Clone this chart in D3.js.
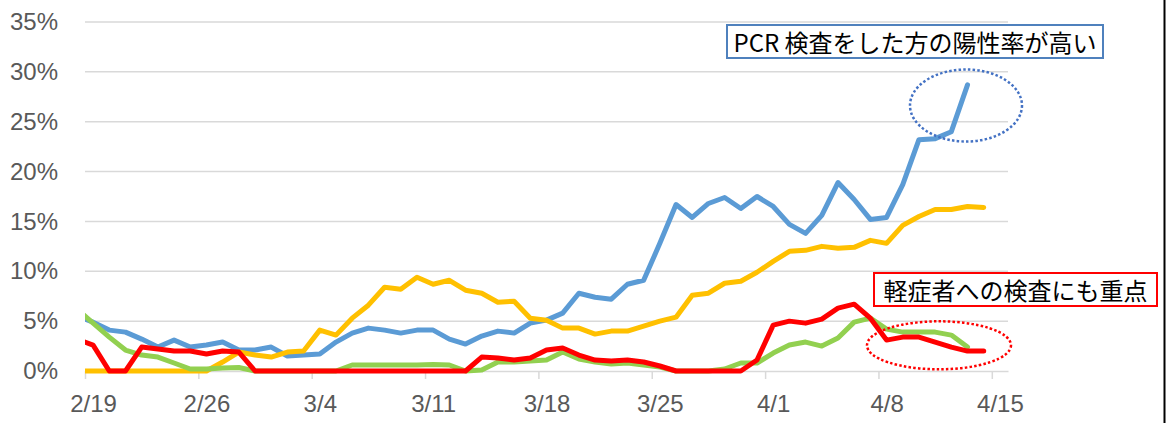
<!DOCTYPE html>
<html>
<head>
<meta charset="utf-8">
<script src="https://cdn.jsdelivr.net/npm/d3@7"></script>
<style>
  body { margin: 0; background: #fff; }
  svg { display: block; }
</style>
</head>
<body>
<script>
// data: one value per day starting 2/18 (2/18 sits just outside the axis, clipped)
const startDay = "2020-02-18";
const tickLabels = ["2/19", "2/26", "3/4", "3/11", "3/18", "3/25", "4/1", "4/8", "4/15"];
const yTicks = [0, 5, 10, 15, 20, 25, 30, 35];

const blue = [5.5, 4.9, 4.1, 3.9, 3.2, 2.4, 3.1, 2.4, 2.6, 2.9, 2.1, 2.1, 2.4, 1.5, 1.6, 1.7,
  2.9, 3.8, 4.3, 4.1, 3.8, 4.1, 4.1, 3.2, 2.7, 3.5, 4.0, 3.8, 4.8, 5.1, 5.8, 7.8, 7.4, 7.2,
  8.7, 9.1, 12.8, 16.7, 15.4, 16.8, 17.4, 16.3, 17.5, 16.5, 14.7, 13.8, 15.6, 18.9, 17.2,
  15.2, 15.4, 18.7, 23.2, 23.3, 24.0, 28.7, null, null];
const yellow = [0, 0, 0, 0, 0, 0, 0, 0, 0, 0.9, 1.9, 1.6, 1.4, 1.9, 2.0, 4.1, 3.6, 5.3, 6.6,
  8.4, 8.2, 9.4, 8.7, 9.1, 8.1, 7.8, 6.9, 7.0, 5.3, 5.1, 4.3, 4.3, 3.7, 4.0, 4.0, 4.5, 5.0,
  5.4, 7.6, 7.8, 8.8, 9.0, 9.9, 11.0, 12.0, 12.1, 12.5, 12.3, 12.4, 13.1, 12.8, 14.6, 15.5,
  16.2, 16.2, 16.5, 16.4, null];
const green = [6.2, 4.8, 3.4, 2.1, 1.6, 1.4, 0.8, 0.2, 0.2, 0.3, 0.35, 0, 0, 0, 0, 0, 0, 0.6,
  0.6, 0.6, 0.6, 0.6, 0.65, 0.6, 0, 0.1, 0.9, 0.9, 1.0, 1.1, 1.9, 1.2, 0.9, 0.7, 0.8, 0.6,
  0.4, 0, 0, 0, 0.2, 0.8, 0.8, 1.8, 2.6, 2.9, 2.5, 3.3, 4.9, 5.3, 4.2, 3.9, 3.9, 3.9, 3.6,
  2.4, null, null];
const red = [3.2, 2.6, 0, 0, 2.4, 2.2, 2.0, 2.0, 1.7, 2.0, 1.9, 0, 0, 0, 0, 0, 0, 0, 0, 0, 0,
  0, 0, 0, 0, 1.4, 1.3, 1.1, 1.3, 2.1, 2.3, 1.6, 1.1, 1.0, 1.1, 0.9, 0.5, 0, 0, 0, 0, 0, 1.1,
  4.6, 5.0, 4.8, 5.2, 6.3, 6.7, 5.3, 3.1, 3.4, 3.4, 2.9, 2.4, 2.0, 2.0, null];

const series = [
  { values: blue, color: "#5B9BD5" },
  { values: yellow, color: "#FFC000" },
  { values: green, color: "#92D050" },
  { values: red, color: "#FF0000" }
];

const notes = [
  { text: "PCR 検査をした方の陽性率が高い", x: 727, y: 25, w: 376, h: 33, color: "#4F81BD" },
  { text: "軽症者への検査にも重点", x: 874, y: 273, w: 283, h: 33, color: "#FF0000" }
];

// Set the dimensions and margins of the graph
const width = 1170, height = 423;
const margin = { top: 22, right: 162, bottom: 52, left: 85 },
    graphWidth = width - margin.left - margin.right,
    graphHeight = height - margin.top - margin.bottom;

const parse = d3.timeParse("%Y-%m-%d");
const day0 = parse(startDay);
const days = blue.map((v, i) => d3.timeDay.offset(day0, i));
const tickDates = tickLabels.map(t => {
  const [m, d] = t.split("/").map(Number);
  return new Date(2020, m - 1, d);
});

const svg = d3.select("body").append("svg")
    .attr("width", width)
    .attr("height", height);

const graph = svg.append("g")
    .attr("transform", `translate(${margin.left}, ${margin.top})`);

// Scales
const x = d3.scaleTime()
    .domain([tickDates[0], d3.timeDay.offset(tickDates[tickDates.length - 1], 1)])
    .range([0, graphWidth]);
const y = d3.scaleLinear().domain([0, 35]).range([graphHeight, 0]);
const halfDay = (x(tickDates[1]) - x(tickDates[0])) / 14;
const xMid = d => x(d) + halfDay;

// gridlines
graph.append("g")
  .selectAll("line")
  .data(yTicks.filter(t => t > 0))
  .enter().append("line")
    .attr("x1", 0).attr("x2", graphWidth)
    .attr("y1", d => y(d)).attr("y2", d => y(d))
    .attr("stroke", "#D9D9D9")
    .attr("stroke-width", 1.5);

// y axis labels
const yAxis = d3.axisLeft(y).tickValues(yTicks).tickFormat(d => d + "%").tickSize(0).tickPadding(27);
const yAxisGroup = graph.append("g").call(yAxis);
yAxisGroup.select(".domain").remove();
yAxisGroup.selectAll("text")
    .attr("fill", "#595959")
    .style("font-family", "'Liberation Sans', Arial, sans-serif")
    .style("font-size", "24px");

// x axis
const xAxis = d3.axisBottom(x).tickValues(tickDates)
    .tickFormat((d, i) => tickLabels[i])
    .tickSizeInner(8).tickSizeOuter(0).tickPadding(16);
const xAxisGroup = graph.append("g")
    .attr("transform", `translate(0, ${graphHeight})`)
    .call(xAxis);
xAxisGroup.select(".domain").attr("stroke", "#D9D9D9").attr("stroke-width", 1.5);
xAxisGroup.selectAll(".tick line").attr("stroke", "#D9D9D9").attr("stroke-width", 1.5);
xAxisGroup.selectAll("text")
    .attr("x", halfDay)
    .attr("fill", "#595959")
    .style("font-family", "'Liberation Sans', Arial, sans-serif")
    .style("font-size", "24px");

// clip to the plot area horizontally
svg.append("defs").append("clipPath").attr("id", "plot-clip")
  .append("rect")
    .attr("x", 0).attr("y", -margin.top)
    .attr("width", graphWidth).attr("height", graphHeight + margin.top + 10);

const line = d3.line()
    .defined(d => d.v !== null)
    .x(d => xMid(d.date))
    .y(d => y(d.v));

graph.append("g").attr("clip-path", "url(#plot-clip)")
  .selectAll("path")
  .data(series)
  .enter().append("path")
    .attr("fill", "none")
    .attr("stroke", d => d.color)
    .attr("stroke-width", 5)
    .attr("stroke-linejoin", "round")
    .attr("stroke-linecap", "round")
    .attr("d", d => line(d.values.map((v, i) => ({ date: days[i], v: v }))));

// dotted ellipses
svg.append("ellipse")
    .attr("cx", 966).attr("cy", 105.5).attr("rx", 56).attr("ry", 36)
    .attr("fill", "none").attr("stroke", "#4472C4")
    .attr("stroke-width", 2.5).attr("stroke-dasharray", "2.5 2.2");
svg.append("ellipse")
    .attr("cx", 939).attr("cy", 345.3).attr("rx", 72).attr("ry", 24)
    .attr("fill", "none").attr("stroke", "#FF0000")
    .attr("stroke-width", 2.5).attr("stroke-dasharray", "2.5 2.2");

// text boxes
const boxes = svg.selectAll("g.note").data(notes).enter().append("g").attr("class", "note");
boxes.append("rect")
    .attr("x", d => d.x).attr("y", d => d.y)
    .attr("width", d => d.w).attr("height", d => d.h)
    .attr("fill", "#fff")
    .attr("stroke", d => d.color)
    .attr("stroke-width", 2);
boxes.append("text")
    .attr("x", d => d.x + d.w / 2)
    .attr("y", d => d.y + d.h / 2)
    .attr("text-anchor", "middle")
    .attr("dominant-baseline", "central")
    .attr("fill", "#000")
    .style("font-family", "'Noto Sans CJK JP', sans-serif")
    .style("font-size", "24px")
    .text(d => d.text);

// frame edge on the right
svg.append("line")
    .attr("x1", 1164.5).attr("x2", 1164.5)
    .attr("y1", 0).attr("y2", height)
    .attr("stroke", "#000")
    .attr("stroke-width", 2);
</script>
</body>
</html>
